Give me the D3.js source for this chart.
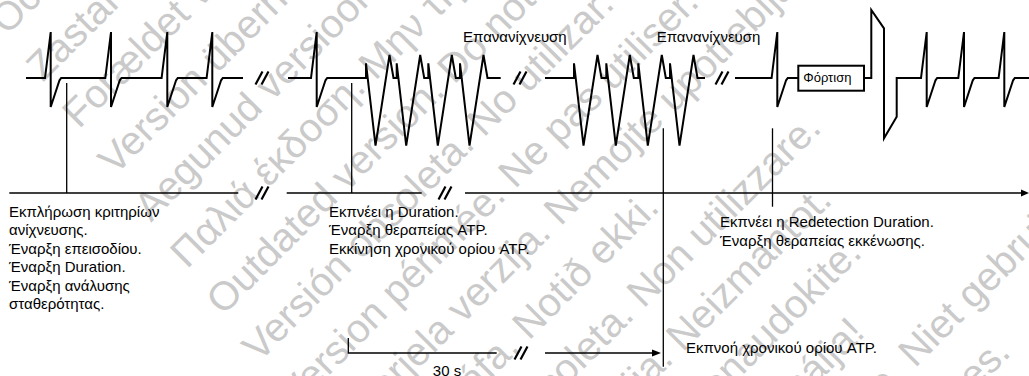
<!DOCTYPE html>
<html><head><meta charset="utf-8">
<script src="https://cdn.jsdelivr.net/npm/d3@7"></script>
<style>body{margin:0;background:#fff}svg{display:block}</style>
</head><body><svg id="c" width="1029" height="376"></svg>
<script>
// ---------- data (time positions along the strip, amplitudes in relative units) ----------
const segA = [26, 243];
const beatsA = [50.7, 111, 167.3, 212.3];
const segB = [288, 500.7];
const beatsB = [316.7];
const vtSpikesB = [366, 396.7, 428.3, 460];
const segC = [545, 705];
const vtSpikesC = [574, 606.3, 638.3, 670];
const segD1 = [735, 798.3];
const beatsD1 = [777.3];
const chargeBox = [798.3, 864];
const segD2 = [864, 1029];
const shockT = [871.3, 884, 896.7];
const beatsD2 = [926.7, 964, 1004.3];

const ampR = 1, ampS = -0.63;
const ampVtTrough = -1.47, ampVtPeak = 0.5, ampSpike = 0.32;
const ampShock = [1.48, 1.08, -1.31, -0.84];
const ampBox = [0.267, -0.276];

const ecgBreaks = [262, 520, 722];
const timelineSegs = [[9.3, 238.3], [286.7, 421.7], [465, 1029]];
const timelineBreaks = [262, 445];
const markersShort = [66.7, 351.7];
const markersLong = [663.3, 772.5];
const bracket = [348.3, 496.7, 545, 661];
const bracketBreak = [521];

const leftLines = ["Εκπλήρωση κριτηρίων", "ανίχνευσης.", "Έναρξη επεισοδίου.", "Έναρξη Duration.", "Έναρξη ανάλυσης", "σταθερότητας."];
const midLines = ["Εκπνέει η Duration.", "Έναρξη θεραπείας ATP.", "Εκκίνηση χρονικού ορίου ATP."];
const rightLines = ["Εκπνέει η Redetection Duration.", "Έναρξη θεραπείας εκκένωσης."];
const timeoutLabel = "Εκπνοή χρονικού ορίου ATP.";
const redetectLabel = "Επανανίχνευση";
const redetectPos = [463, 656.7];
const chargeLabel = "Φόρτιση";
const scaleLabel = "30 s";

const watermark = [
 "Остаряла версия. Да не се използва.",
 "Zastaralá verze. Nepoužívat.",
 "Forældet version. Må ikke anvendes.",
 "Version überholt. Nicht verwenden.",
 "Aegunud versioon. Ärge kasutage.",
 "Παλιά έκδοση. Μην την χρησιμοποιείτε.",
 "Outdated version. Do not use.",
 "Versión obsoleta. No utilizar.",
 "Version périmée. Ne pas utiliser.",
 "Zastarjela verzija. Nemojte upotrebljavati.",
 "Úrelt útgáfa. Notið ekki.",
 "Versione obsoleta. Non utilizzare.",
 "Novecojusi versija. Neizmantot.",
 "Pasenusi versija. Nenaudokite.",
 "Elavult verzió. Ne használja!",
 "Dit is een verouderde versie. Niet gebruiken.",
 "Utdatert versjon. Skal ikke brukes.",
 "Wersja przeterminowana. Nie używać."
];

// ---------- drawing ----------
const W = 1029, H = 376;
const svg = d3.select("#c");
const x = d3.scaleLinear().domain([0, 1029]).range([0, W]);
const y = d3.scaleLinear().domain([-1, 1]).range([124, 32]);
const font = "'Liberation Sans', Arial, sans-serif";

// watermark (diagonal repeated notice)
const wm = svg.append("g").attr("fill", "#cacaca").style("font-family", font).style("font-size", "40px");
watermark.forEach((t, i) => {
  const sx = 7 + 36 * i, sy = 36 + 46.7 * i;
  wm.append("text").attr("transform", `translate(${sx},${sy}) rotate(-45)`).text(t);
});

const line = d3.line().x(d => x(d[0])).y(d => y(d[1]));
const ink = svg.append("g").attr("fill", "none").attr("stroke", "#000").attr("stroke-linejoin", "miter");

function normalBeat(b) { return [[b - 5.7, 0], [b, ampR], [b, ampS], [b + 8.8, -0.05], [b + 10.5, 0]]; }
function vtRun(spikes, end) {
  const pts = [];
  spikes.forEach(s => {
    pts.push([s, 0], [s, ampSpike], [s + 9.5, ampVtTrough], [s + 23.5, ampVtPeak], [s + 27.5, 0]);
  });
  pts.push([end, 0]);
  return pts;
}
function strip(seg, beats, tail) {
  let pts = [[seg[0], 0]];
  beats.forEach(b => pts = pts.concat(normalBeat(b)));
  if (tail) pts = pts.concat(tail); else pts.push([seg[1], 0]);
  return pts;
}
const paths = [
  strip(segA, beatsA),
  strip(segB, beatsB, vtRun(vtSpikesB, segB[1])),
  strip(segC, [], vtRun(vtSpikesC, segC[1])),
  strip(segD1, beatsD1),
];
let d2 = [[segD2[0], 0], [shockT[0], 0], [shockT[0], ampShock[0]], [shockT[1], ampShock[1]], [shockT[1], ampShock[2]], [shockT[2], ampShock[3]], [shockT[2], 0]];
beatsD2.forEach(b => d2 = d2.concat(normalBeat(b)));
d2.push([segD2[1], 0]);
paths.push(d2);
paths.forEach(p => ink.append("path").attr("d", line(p)).attr("stroke-width", 2));

// charge box
ink.append("rect").attr("x", x(chargeBox[0])).attr("y", y(ampBox[0]))
  .attr("width", x(chargeBox[1]) - x(chargeBox[0])).attr("height", y(ampBox[1]) - y(ampBox[0])).attr("stroke-width", 2);

// break marks
function brk(cx, cy, sw) {
  [-3, 3].forEach(o => ink.append("line").attr("x1", cx + o - 3.5).attr("y1", cy + 6.5).attr("x2", cx + o + 3.5).attr("y2", cy - 6.5).attr("stroke-width", sw));
}
ecgBreaks.forEach(b => brk(x(b), y(0), 2.2));
const tY = 193;
timelineBreaks.forEach(b => brk(x(b), tY, 2.2));
bracketBreak.forEach(b => brk(x(b), 353, 2.2));

// timeline
timelineSegs.forEach(s => ink.append("line").attr("x1", x(s[0])).attr("x2", x(s[1]) - (s[1] >= 1029 ? 6 : 0)).attr("y1", tY).attr("y2", tY).attr("stroke-width", 1.4));
svg.append("path").attr("d", `M${W},${tY} L${W - 8},${tY - 3.5} L${W - 8},${tY + 3.5}Z`).attr("fill", "#000");

// markers
markersShort.forEach(m => ink.append("line").attr("x1", x(m)).attr("x2", x(m)).attr("y1", 83).attr("y2", tY).attr("stroke-width", 1.3));
markersLong.forEach((m, i) => ink.append("line").attr("x1", x(m)).attr("x2", x(m)).attr("y1", 128.3).attr("y2", i === 0 ? 366.7 : 206.7).attr("stroke-width", 1.3));

// 30 s bracket
ink.append("path").attr("d", `M${x(bracket[0])},338 V353 H${x(bracket[1])}`).attr("stroke-width", 1.3);
ink.append("line").attr("x1", x(bracket[2])).attr("x2", x(bracket[3]) - 6).attr("y1", 353).attr("y2", 353).attr("stroke-width", 1.3);
svg.append("path").attr("d", `M${x(bracket[3])},353 L${x(bracket[3]) - 9},349.5 L${x(bracket[3]) - 9},356.5Z`).attr("fill", "#000");

// texts
const tx = svg.append("g").attr("fill", "#000").style("font-family", font).style("font-size", "15px");
function block(lines, x0, y0, dy) {
  lines.forEach((t, i) => tx.append("text").attr("x", x0).attr("y", y0 + i * dy).text(t));
}
block(leftLines, 9, 216.5, 18.5);
block(midLines, 329, 216.5, 18.5);
block(rightLines, 720, 227, 18.5);
tx.append("text").attr("x", 686).attr("y", 353).text(timeoutLabel);
redetectPos.forEach(p => tx.append("text").attr("x", x(p)).attr("y", 41.5).text(redetectLabel));
tx.append("text").attr("x", x(chargeBox[0]) + 5).attr("y", 82).style("font-size", "13px").text(chargeLabel);
tx.append("text").attr("x", 447).attr("y", 375.5).attr("text-anchor", "middle").text(scaleLabel);
</script></body></html>
